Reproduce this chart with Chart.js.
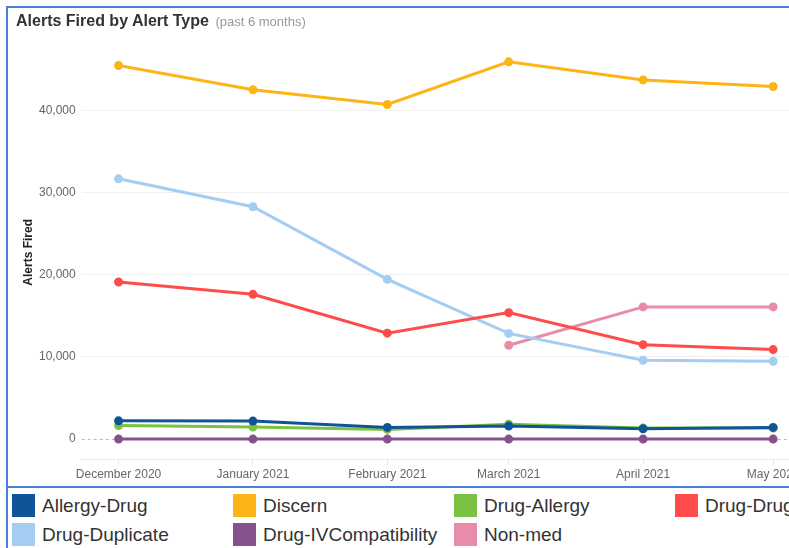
<!DOCTYPE html>
<html>
<head>
<meta charset="utf-8">
<script src="https://cdn.jsdelivr.net/npm/chart.js@4"></script>
<style>
  html, body { margin: 0; padding: 0; background: #fff; overflow: hidden; width: 789px; height: 548px; }
  body { position: relative; font-family: "Liberation Sans", Arial, sans-serif; }
  #box { position: absolute; left: 6px; top: 6px; width: 900px; height: 478px; border: 2px solid #4a80d9; }
  #title { position: absolute; left: 8px; top: 4px; font-size: 16px; font-weight: bold; color: #333; white-space: nowrap; }
  #title span { font-size: 13px; font-weight: normal; color: #999; margin-left: 2px; }
  #chart { position: absolute; left: 0; top: 0; }
  #legendBox { position: absolute; left: 6px; top: 486px; width: 900px; height: 80px; border-left: 2px solid #4a80d9; }
  #legend { position: absolute; left: 4px; top: 8px; width: 900px; }
  .item { position: absolute; display: flex; align-items: center; font-size: 19px; color: #333; white-space: nowrap; }
  .sw { width: 23px; height: 23px; margin-right: 7px; }
</style>
</head>
<body>
<div id="box">
  <canvas id="chart" width="812" height="478"></canvas>
  <div id="title">Alerts Fired by Alert Type <span>(past 6 months)</span></div>
</div>
<div id="legendBox"><div id="legend"></div></div>
<script>
// ---- data ----
const monthDates = ["2020-12-01", "2021-01-01", "2021-02-01", "2021-03-01", "2021-04-01", "2021-05-01"];
const monthLabels = ["December 2020", "January 2021", "February 2021", "March 2021", "April 2021", "May 2021"];
const seriesNames = ["Allergy-Drug", "Discern", "Drug-Allergy", "Drug-Drug", "Drug-Duplicate", "Drug-IVCompatibility", "Non-med"];
const allergyDrug = [2220, 2190, 1420, 1580, 1260, 1420];
const discern = [45500, 42550, 40750, 45950, 43750, 42950];
const drugAllergy = [1660, 1460, 1180, 1820, 1340, 1340];
const drugDrug = [19130, 17630, 12900, 15400, 11500, 10900];
const drugDuplicate = [31700, 28300, 19450, 12870, 9600, 9480];
const drugIVCompatibility = [0, 0, 0, 0, 0, 0];
const nonMed = [null, null, null, 11430, 16100, 16100];
const yTickValues = [0, 10000, 20000, 30000, 40000];

// ---- styles ----
const colors = ["#0f5496", "#fdb515", "#7cc242", "#ff4b4b", "#a3cdf3", "#87508f", "#e88ca9"];
const allSeries = [allergyDrug, discern, drugAllergy, drugDrug, drugDuplicate, drugIVCompatibility, nonMed];

const dayMs = 86400000;
const t0 = Date.parse(monthDates[0]);
const xDays = monthDates.map(d => Math.round((Date.parse(d) - t0) / dayMs));

const datasets = seriesNames.map((name, i) => ({
  label: name,
  data: allSeries[i].map((v, j) => ({ x: xDays[j], y: v })).filter(p => p.y !== null),
  borderColor: colors[i],
  backgroundColor: colors[i],
  pointBackgroundColor: colors[i],
  pointBorderColor: colors[i],
  borderWidth: 3,
  pointRadius: 3,
  tension: 0
}));

const zeroLine = {
  id: 'zeroLine',
  beforeDatasetsDraw(chart) {
    const y = chart.scales.y.getPixelForValue(0);
    const a = chart.chartArea;
    const ctx = chart.ctx;
    ctx.save();
    ctx.strokeStyle = '#b8b8b8';
    ctx.lineWidth = 1;
    ctx.setLineDash([3, 3]);
    ctx.beginPath();
    ctx.moveTo(a.left, Math.round(y) + 0.5);
    ctx.lineTo(a.right, Math.round(y) + 0.5);
    ctx.stroke();
    ctx.restore();
  }
};

new Chart(document.getElementById('chart'), {
  type: 'line',
  data: { datasets },
  plugins: [zeroLine],
  options: {
    responsive: false,
    animation: false,
    devicePixelRatio: 1,
    layout: { padding: { left: 8, top: 37, right: 10, bottom: 1 } },
    plugins: { legend: { display: false }, tooltip: { enabled: false } },
    scales: {
      x: {
        type: 'linear',
        min: -8.5,
        max: 159.5,
        afterBuildTicks: s => { s.ticks = xDays.map(v => ({ value: v })); },
        ticks: {
          font: { family: '"Liberation Sans", Arial, sans-serif', size: 12 },
          color: '#666',
          padding: 3,
          maxRotation: 0,
          autoSkip: false,
          callback: (v) => { const k = xDays.indexOf(v); return k >= 0 ? monthLabels[k] : ''; }
        },
        grid: { drawOnChartArea: false, drawTicks: true, tickLength: 5, color: '#e6e6e6' },
        border: { display: true, color: '#ececec' }
      },
      y: {
        min: -2500,
        max: 48000,
        afterBuildTicks: s => { s.ticks = yTickValues.map(v => ({ value: v })); },
        ticks: {
          font: { family: '"Liberation Sans", Arial, sans-serif', size: 12 },
          color: '#666',
          padding: 6,
          callback: v => v.toLocaleString('en-US')
        },
        grid: {
          drawTicks: false,
          color: ctx => (ctx.tick && ctx.tick.value === 0) ? 'rgba(0,0,0,0)' : '#f0f0f0'
        },
        border: { display: false },
        title: {
          display: true,
          text: 'Alerts Fired',
          color: '#222',
          font: { family: '"Liberation Sans", Arial, sans-serif', size: 12, weight: 'bold', lineHeight: 1 },
          padding: { top: 7, bottom: -2 }
        }
      }
    }
  }
});

// ---- HTML legend ----
const legend = document.getElementById('legend');
seriesNames.forEach((name, i) => {
  const col = i % 4, row = Math.floor(i / 4);
  const el = document.createElement('div');
  el.className = 'item';
  el.style.left = (col * 221) + 'px';
  el.style.top = (row * 29) + 'px';
  el.innerHTML = '<div class="sw" style="background:' + colors[i] + '"></div>' + name;
  legend.appendChild(el);
});
</script>
</body>
</html>
